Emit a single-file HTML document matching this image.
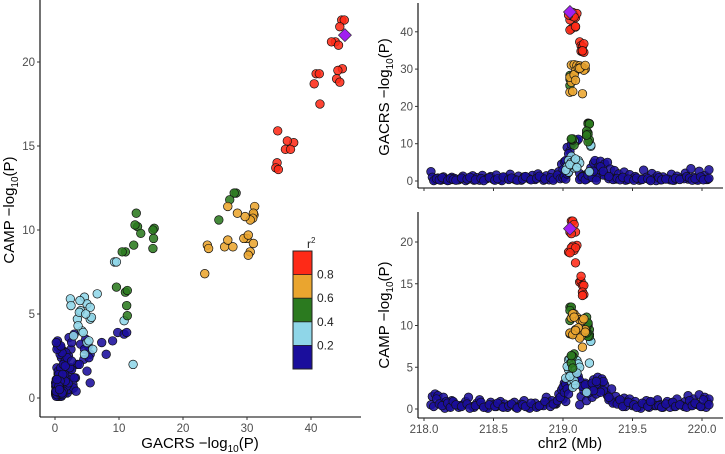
<!DOCTYPE html>
<html><head><meta charset="utf-8">
<style>
html,body{margin:0;padding:0;background:#fff;}
svg{display:block;font-family:"Liberation Sans",sans-serif;}
.tick{fill:#4d4d4d;font-size:11.5px;}
.title{fill:#000;font-size:15px;}
</style></head>
<body>
<svg id="chart" width="725" height="454" viewBox="0 0 725 454">
<g id="left"></g>
<g id="rtop"></g>
<g id="rbot"></g>
<g id="legend"></g>
</svg>
<script>
// ---- data: [position Mb, GACRS -log10P, CAMP -log10P] by r2 class ----
const leadSnp = [219.05, 45.3, 21.6];
const redPos  = [219.06,219.07,219.08,219.09,219.05,219.06,219.10,219.07,219.08,219.04,219.06,219.09,219.05,219.09,219.12,219.13,219.14,219.15,219.13,219.14,219.15,219.14];
const redG    = [44.8,45.2,44.5,43.8,43.2,44.3,44.9,44.2,44.0,44.5,40.8,41.3,40.5,41.4,37.3,36.3,36.0,36.8,34.8,34.7,34.5,34.9];
const redC    = [22.5,22.5,22.1,21.2,21.2,21.0,19.6,19.5,19.0,18.8,19.3,19.3,18.7,17.5,15.2,15.3,14.8,14.8,15.9,14.0,13.7,13.6];
const orgPos  = [219.06,219.08,219.10,219.12,219.14,219.16,219.15,219.09,219.07,219.06,219.05,219.08,219.11,219.13,219.12,219.05,219.07,219.09,219.14,219.16];
const orgG    = [31.1,31.2,31.0,30.9,30.5,30.0,29.7,29.5,27.0,26.5,27.8,28.5,30.2,30.5,30.2,23.8,24.0,27.0,23.4,31.0];
const orgC    = [10.9,11.4,11.0,10.7,10.6,9.5,10.8,9.5,11.4,9.0,9.0,11.0,9.7,8.7,8.5,9.1,8.9,9.4,7.4,9.2];
const grnPos  = [219.05,219.06,219.05,219.05,219.18,219.18,219.19,219.19,219.17,219.18,219.17,219.18,219.19,219.18,219.17,219.08,219.07,219.06,219.07,219.06];
const grnG    = [28.3,28.0,27.3,25.6,15.5,15.3,15.4,15.3,12.7,12.9,13.4,12.5,11.0,10.5,12.3,9.6,11.0,11.2,11.3,11.3];
const grnC    = [12.2,12.2,11.8,10.6,10.1,10.0,9.5,8.9,11.0,10.2,9.8,10.3,8.7,8.7,9.1,6.6,6.3,5.5,4.9,6.4];
const lbPos   = [219.20,219.20,219.08,219.17,219.06,219.04,219.05,219.06,219.07,219.08,219.04,219.05,219.09,219.03,219.06,219.07,219.08,219.10,219.11,219.02,219.19,219.12,219.05,219.09,219.10];
const lbG     = [9.3,9.6,10.8,12.2,6.6,2.4,4.6,5.0,4.0,3.5,5.5,4.2,5.7,3.8,5.0,4.6,5.3,3.9,5.5,2.9,2.5,4.8,4.4,5.9,3.6];
const lbC     = [8.1,8.1,4.6,2.0,6.2,5.9,6.0,5.6,5.2,4.7,4.7,4.0,4.8,5.1,3.3,2.6,3.4,5.8,5.4,3.7,5.5,5.0,3.9,2.9,4.3];
const bluePos = [218.05,218.06,218.08,218.10,218.12,218.14,218.16,218.18,218.20,218.22,218.25,218.28,218.30,218.32,218.35,218.38,218.40,218.42,218.45,218.48,218.50,218.52,218.55,218.58,218.60,218.62,218.65,218.68,218.70,218.72,218.75,218.78,218.80,218.82,218.85,218.88,218.90,218.92,218.95,218.97,218.99,219.00,219.01,219.03,219.05,219.06,219.10,219.11,219.04,219.02,219.12,219.13,219.15,219.17,219.19,219.20,219.22,219.23,219.25,219.26,219.27,219.28,219.30,219.31,219.32,219.34,219.35,219.37,219.38,219.40,219.42,219.44,219.46,219.48,219.50,219.52,219.55,219.58,219.60,219.62,219.64,219.66,219.68,219.70,219.72,219.75,219.78,219.80,219.82,219.85,219.88,219.90,219.92,219.94,219.96,219.98,220.00,220.02,220.04,220.05,218.07,218.15,218.26,218.36,218.46,218.56,218.66,218.76,218.86,218.94,219.21,219.24,219.29,219.33,219.36,219.45,219.56,219.67,219.77,219.87,219.97,220.03,
  218.09,218.11,218.13,218.17,218.19,218.21,218.23,218.27,218.31,218.33,218.37,218.41,218.43,218.47,218.51,218.53,218.57,218.61,218.63,218.67,218.71,218.73,218.77,218.81,218.83,218.87,218.91,218.93,218.96,218.98,219.14,219.16,219.18,219.21,219.24,219.27,219.29,219.33,219.39,219.41,219.43,219.47,219.51,219.53,219.57,219.61,219.63,219.69,219.71,219.74,219.79,219.81,219.84,219.89,219.91,219.93,219.95,219.99,220.01,220.05,219.00,219.01,219.02,219.03,219.04,219.12,219.14,219.16,219.18,219.21,219.22,219.24];
const blueG   = [2.5,1.0,0.3,0.8,0.2,1.1,0.5,0.2,1.0,0.7,0.3,1.3,0.1,0.5,1.4,0.9,0.2,1.5,0.6,1.2,0.4,1.6,0.3,1.0,0.7,1.8,0.5,1.3,0.2,1.1,0.8,1.5,0.4,1.9,0.9,1.4,0.3,2.0,1.0,2.5,4.5,3.0,5.2,9.0,8.0,9.8,10.8,11.2,7.3,5.5,2.0,0.8,1.5,0.5,2.5,3.5,4.8,5.5,3.0,4.0,5.3,2.2,4.6,1.5,5.0,3.2,1.0,2.8,0.5,1.9,0.8,2.4,0.3,1.7,0.6,1.2,0.2,2.9,1.0,0.4,2.0,0.7,1.4,0.3,1.1,0.6,1.8,0.2,1.3,0.8,2.1,0.5,3.3,1.0,0.3,2.6,0.9,1.5,0.4,3.0,0.1,0.4,0.6,0.2,0.8,0.1,0.3,0.5,0.2,0.7,1.2,0.9,1.6,0.6,0.4,0.2,0.5,0.1,0.3,0.6,0.2,0.4,
  0.6,0.3,0.9,0.1,0.7,0.4,0.2,0.8,0.5,1.0,0.3,0.7,0.1,0.9,0.2,0.6,1.1,0.4,0.8,0.2,0.5,1.2,0.3,0.7,1.3,0.5,0.9,0.2,1.6,0.6,1.3,0.4,2.1,1.7,0.9,3.8,2.6,1.2,0.7,0.3,1.0,0.5,0.2,0.8,0.4,0.6,0.1,0.9,0.3,0.5,0.2,0.7,0.4,1.2,0.8,0.2,0.6,1.1,0.3,0.7,0.8,1.3,0.5,1.9,2.3,0.4,1.1,0.3,1.6,0.9,2.6,0.2];
const blueC   = [0.5,1.5,1.8,1.6,0.8,1.4,0.9,0.3,1.0,0.6,0.2,0.5,0.9,1.4,0.3,0.7,1.1,0.4,0.2,0.8,0.5,0.3,0.9,0.6,0.2,0.5,0.8,0.3,0.6,1.0,0.2,0.4,0.7,0.3,0.5,1.4,0.8,1.0,0.6,1.8,2.3,1.2,3.1,3.4,2.6,3.9,3.8,3.9,3.3,0.9,0.5,1.5,2.2,1.0,2.9,2.0,3.5,2.6,3.8,3.2,2.4,3.6,2.9,2.0,1.6,1.2,2.4,0.8,1.5,1.0,0.5,1.3,0.9,1.2,0.4,0.9,0.3,0.6,1.0,0.2,0.8,0.4,1.1,0.5,0.2,0.9,0.7,0.3,1.2,0.5,0.9,1.6,0.4,1.2,0.6,1.7,0.3,1.4,0.8,1.2,0.3,0.1,0.4,0.2,0.1,0.3,0.2,0.1,0.4,0.6,1.4,1.8,2.2,1.1,0.7,0.3,0.1,0.4,0.2,0.3,0.5,0.2,
  1.2,0.6,0.4,0.7,0.2,0.9,0.5,0.3,0.6,0.1,0.4,0.8,0.2,0.5,0.3,0.7,0.2,0.4,0.6,0.1,0.5,0.3,0.7,0.2,0.4,0.9,0.3,0.6,1.0,1.4,2.8,3.1,2.5,2.7,3.0,2.0,3.3,1.4,0.6,1.1,0.3,0.8,0.5,0.2,0.7,0.3,0.9,0.4,0.2,0.6,0.8,0.3,0.5,0.2,1.0,0.4,0.7,0.3,1.1,0.5,2.6,2.0,3.0,2.4,1.8,3.4,2.7,2.9,1.9,3.1,2.2,3.3];
const leftXTicks = [0,10,20,30,40];
const leftYTicks = [0,5,10,15,20];
const posTicks = [218.0,218.5,219.0,219.5,220.0];
const topYTicks = [0,10,20,30,40];
const botYTicks = [0,5,10,15,20];
const legendLabels = ["0.8","0.6","0.4","0.2"];
const classColors = ["#1a0e9c","#8fd6e8","#2b7a1f","#eaa52f","#fe2a17"];

const NS="http://www.w3.org/2000/svg";
function mk(parent,tag,attrs,text){const e=document.createElementNS(NS,tag);for(const k in attrs)e.setAttribute(k,attrs[k]);if(text!==undefined)e.textContent=text;parent.appendChild(e);return e;}
const lx=v=>55+v*6.4, ly=v=>398-v*16.8;
const px=v=>424+(v-218)*139, ty=v=>181-v*3.73, by=v=>409-v*8.35;

const left=document.getElementById('left'), rtop=document.getElementById('rtop'), rbot=document.getElementById('rbot');

function axes(g,x0,y0,x1,ytop,xt,xf,yt,yf,labelX){
  const ya=mk(g,'line',{x1:x0,y1:ytop,x2:x0,y2:y0,stroke:'#000','stroke-width':1.1});
  
  const xa=mk(g,'line',{x1:x0,y1:y0,x2:x1,y2:y0,stroke:'#000','stroke-width':1.1});
  
  xt.forEach(t=>{const x=xf(t);mk(g,'line',{x1:x,y1:y0,x2:x,y2:y0+3,stroke:'#333'});
    if(labelX){const tx=mk(g,'text',{x:x,y:y0+15,'text-anchor':'middle',class:'tick'},t.toFixed(labelX==='f'?1:0));
      }});
  yt.forEach(t=>{const y=yf(t);mk(g,'line',{x1:x0-3,y1:y,x2:x0,y2:y,stroke:'#333'});
    const ty_=mk(g,'text',{x:x0-5,y:y+4,'text-anchor':'end',class:'tick'},t);
    });
}
axes(left,40,417,361,0,leftXTicks,lx,leftYTicks,ly,'i');
axes(rtop,418,188,723,3,posTicks,px,topYTicks,ty,null);
axes(rbot,418,418,723,212,posTicks,px,botYTicks,by,'f');

function ytitle(g,x,cy,name){const t=mk(g,'text',{x:0,y:0,transform:`translate(${x},${cy}) rotate(-90)`,'text-anchor':'middle',class:'title'});
  t.innerHTML=name+' \u2212log<tspan font-size="10" dy="4">10</tspan><tspan dy="-4">(P)</tspan>';
  }
ytitle(left,14,210,'CAMP');ytitle(rtop,389,97,'GACRS');ytitle(rbot,389,315,'CAMP');
const xt1=mk(left,'text',{x:200,y:448,'text-anchor':'middle',class:'title'});
xt1.innerHTML='GACRS \u2212log<tspan font-size="10" dy="4">10</tspan><tspan dy="-4">(P)</tspan>';

const xt2=mk(rbot,'text',{x:570,y:448,'text-anchor':'middle',class:'title'},'chr2 (Mb)');


const groups=[[bluePos,blueG,blueC],[lbPos,lbG,lbC],[grnPos,grnG,grnC],[orgPos,orgG,orgC],[redPos,redG,redC]];
const names=['snp-point-r2-low','snp-point-r2-0.2-0.4','snp-point-r2-0.4-0.6','snp-point-r2-0.6-0.8','snp-point-r2-high'];
function dot(g,x,y,col,nm){const c=mk(g,'circle',{cx:x,cy:y,r:4.3,fill:col,'fill-opacity':0.88,stroke:'#111','stroke-width':0.7});
  }
groups.forEach((gr,i)=>{const [P,G,C]=gr;
  for(let k=0;k<P.length;k++){
    dot(left,lx(G[k]),ly(C[k]),classColors[i],names[i]);
    dot(rtop,px(P[k]),ty(G[k]),classColors[i],names[i]);
    dot(rbot,px(P[k]),by(C[k]),classColors[i],names[i]);
  }});
function diamond(g,x,y){const d=mk(g,'polygon',{points:`${x},${y-6.5} ${x+6.5},${y} ${x},${y+6.5} ${x-6.5},${y}`,fill:'#a020f0',stroke:'#333','stroke-width':0.7});
  }
diamond(left,lx(leadSnp[1]),ly(leadSnp[2]));
diamond(rtop,px(leadSnp[0]),ty(leadSnp[1]));
diamond(rbot,px(leadSnp[0]),by(leadSnp[2]));

const lg=document.getElementById('legend');
const bh=23.6;
[4,3,2,1,0].forEach((ci,j)=>{const r=mk(lg,'rect',{x:293,y:251+j*bh,width:19,height:bh,fill:classColors[ci]});
  });
mk(lg,'rect',{x:293,y:251,width:19,height:bh*5,fill:'none',stroke:'#222','stroke-width':1});
legendLabels.forEach((l,j)=>{const y=251+(j+1)*bh;
  mk(lg,'line',{x1:293,y1:y,x2:312,y2:y,stroke:'#222','stroke-width':0.8});
  const t=mk(lg,'text',{x:317,y:y+4,'font-size':'12px',fill:'#222'},l);
  });
const lt=mk(lg,'text',{x:307,y:248,'font-size':'12px',fill:'#222'});
lt.innerHTML='r<tspan font-size="8" dy="-5">2</tspan>';

</script>
</body></html>
